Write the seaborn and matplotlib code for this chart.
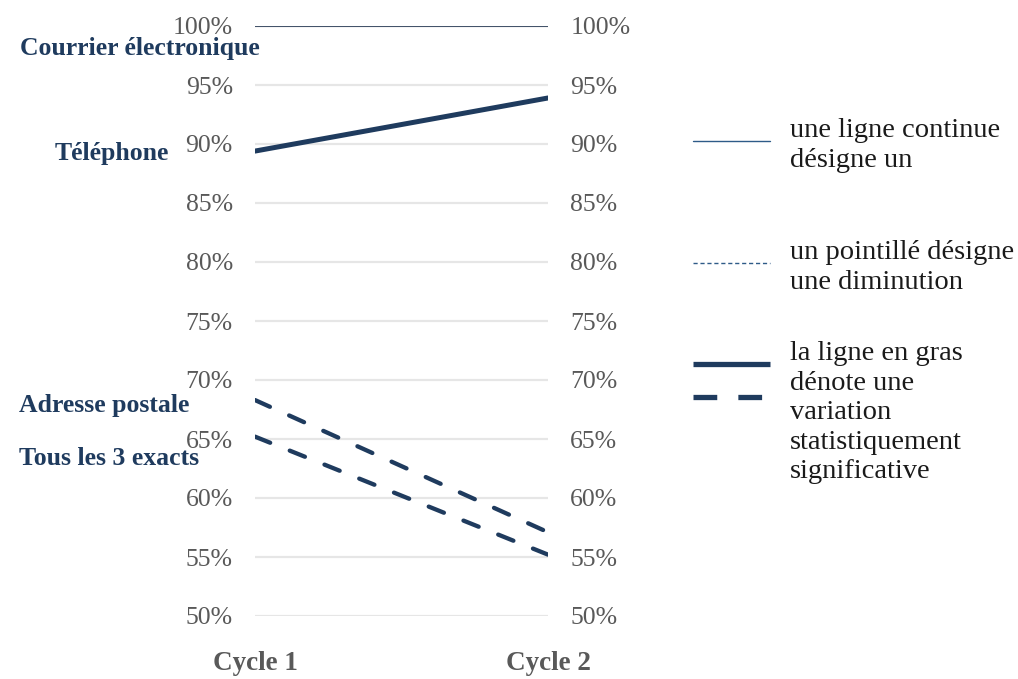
import numpy as np
import pandas as pd
import matplotlib.pyplot as plt
import matplotlib.lines as mlines
import seaborn as sns

# data
cycles = ["Cycle 1", "Cycle 2"]
series_names = ["Courrier électronique", "Téléphone", "Adresse postale", "Tous les 3 exacts"]
courriel = [100.0, 100.0]
telephone = [89.4, 93.9]
adresse = [68.3, 57.1]
tous_trois = [65.2, 55.2]
y_ticks = [50, 55, 60, 65, 70, 75, 80, 85, 90, 95, 100]

legend_texts = [
    "une ligne continue\ndésigne un",
    "un pointillé désigne\nune diminution",
    "la ligne en gras\ndénote une\nvariation\nstatistiquement\nsignificative",
]

NAVY = "#1F3B5E"
GRAY = "#595959"

sns.set_theme(style="white")
plt.rcParams["font.family"] = ["Liberation Serif", "DejaVu Serif"]

fig = plt.figure(figsize=(10.18, 6.79), dpi=100)
W, H = 1018, 679
ax = fig.add_axes([255 / W, 1 - 616 / H, (548 - 255) / W, (616 - 26) / H])

df = pd.DataFrame({
    "cycle": cycles * 4,
    "value": courriel + telephone + adresse + tous_trois,
    "serie": np.repeat(series_names, 2),
})

dashed = dict(color=NAVY, linewidth=3.1, linestyle=(0, (3.8, 4.9)), dash_capstyle="round")
styles = {
    "Courrier électronique": dict(color="#44546A", linewidth=1.5, linestyle="-"),
    "Téléphone": dict(color=NAVY, linewidth=3.6, linestyle="-"),
    "Adresse postale": dashed,
    "Tous les 3 exacts": dashed,
}

for name in series_names:
    sub = df[df["serie"] == name]
    sns.lineplot(data=sub, x="cycle", y="value", ax=ax, zorder=3, **styles[name])

ax.set_xlim(0, 1)
ax.set_ylim(50, 100)
ax.set_yticks(y_ticks)
ax.set_yticklabels([f"{v}%" for v in y_ticks])
ax.grid(axis="y", color="#E6E6E6", linewidth=1.6)
ax.grid(axis="x", visible=False)
for s in ax.spines.values():
    s.set_visible(False)
ax.set_xlabel("")
ax.set_ylabel("")
ax.tick_params(axis="y", length=0, pad=16, labelsize=18.5, labelcolor=GRAY,
               labelleft=True, labelright=True)
ax.tick_params(axis="x", length=0, pad=25, labelsize=19.5, labelcolor=GRAY)
for lab in ax.get_xticklabels():
    lab.set_fontweight("bold")

# series labels at the left, near the Cycle 1 values
label_offsets = {
    "Courrier électronique": (-115, -22),
    "Téléphone": (-143, -2),
    "Adresse postale": (-151, -5),
    "Tous les 3 exacts": (-146, -22),
}
for name, vals in zip(series_names, [courriel, telephone, adresse, tous_trois]):
    dx, dy = label_offsets[name]
    ax.annotate(name, xy=(0, vals[0]), xytext=(dx, dy), textcoords="offset pixels",
                ha="center", va="center", fontsize=18.5, fontweight="bold",
                color=NAVY, annotation_clip=False, zorder=5)

# manual key on the right
def fig_line(x0, x1, y, **kw):
    fig.add_artist(mlines.Line2D([x0 / W, x1 / W], [1 - y / H, 1 - y / H], **kw))

fig_line(693, 770, 141, color="#2E5B88", linewidth=1.0)
fig_line(693, 770, 263, color="#2E5B88", linewidth=1.0, linestyle=(0, (3, 2)))
fig_line(693, 770, 364, color=NAVY, linewidth=3.8, solid_capstyle="butt")
fig_line(693, 770, 397, color=NAVY, linewidth=3.8, linestyle=(0, (4.5, 4.0)))

text_tops = [118, 240, 341]
for txt, top in zip(legend_texts, text_tops):
    fig.text(790 / W, 1 - top / H, txt, ha="left", va="top", fontsize=20.5,
             color="#1A1A1A", linespacing=1.24)

fig.savefig("out.png", dpi=100)
